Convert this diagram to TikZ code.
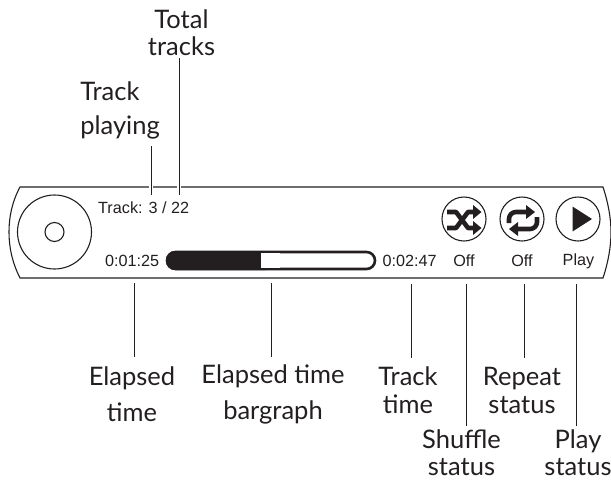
\documentclass[tikz,border=0pt]{standalone}
\usepackage{fontspec}
\setmainfont{Lato}
\newfontfamily\panelfont{Liberation Sans}
\definecolor{ink}{HTML}{231F20}
\tikzset{
  x=1pt,y=-1pt,
  outline/.style={draw=ink,line width=1.1pt},
  leader/.style={draw=ink,line width=1pt},
  halo/.style={draw=white,line width=3.4pt},
  lab/.style={font=\fontsize{25.5}{28}\selectfont,text=ink,align=center,inner sep=0pt},
  ptext/.style={font=\panelfont\fontsize{16.2}{18}\selectfont,text=ink,inner sep=0pt},
  pipe/.style={draw=ink,line width=4.6pt,line join=round}
}
\begin{document}
\begin{tikzpicture}
\useasboundingbox (0,0) rectangle (611,480);
\draw[outline] (20,187) -- (603,187) .. controls (608,202) and (611,218) .. (611,232) .. controls (611,247) and (608,263) .. (603,278) -- (20,278) .. controls (12,262) and (9,247) .. (9,232) .. controls (9,217) and (12,202) .. (20,187) -- cycle;
\node[circle,outline,minimum size=74pt,inner sep=0pt] (disc) at (54.5,232) {};
\node[circle,outline,minimum size=19pt,inner sep=0pt] (hole) at (54.5,232) {};
% bar
\draw[draw=ink,line width=2.6pt,fill=white,rounded corners=8.5pt] (167,252) rectangle (375,269);
\fill[ink,rounded corners=9pt] (166,251) rectangle (275,270);
\fill[white] (261,253.3) rectangle (280,267.7);
% icons
\node[circle,outline,minimum size=44pt,inner sep=0pt] (shuf) at (464,219) {};
\node[circle,outline,minimum size=44pt,inner sep=0pt] (rep) at (522,219) {};
\node[circle,outline,minimum size=44pt,inner sep=0pt] (play) at (578,219) {};
\fill[ink] (572.5,206.5) -- (592,219) -- (572.5,231.5) -- cycle;
% shuffle
\draw[pipe] (447,212) -- (456,212) -- (468,228) -- (475,228);
\draw[pipe] (447,228) -- (456,228) -- (468,212) -- (475,212);
\fill[ink] (473,205) -- (481.5,212) -- (473,219) -- cycle;
\fill[ink] (473,221) -- (481.5,228) -- (473,235) -- cycle;
% repeat
\draw[pipe,rounded corners=7pt] (528,212) -- (509,212) -- (509,223);
\draw[pipe,rounded corners=7pt] (516,229) -- (537,229) -- (537,217);
\fill[ink] (526,205) -- (535,212) -- (526,219) -- cycle;
\fill[ink] (518,222) -- (509,229) -- (518,236) -- cycle;
% panel text
\node[ptext,anchor=west] (track) at (98,208) {Track: 3 / 22};
\node[ptext,anchor=west] (el) at (105,261) {0:01:25};
\node[ptext,anchor=west] (tt) at (382.5,261) {0:02:47};
\node[ptext] (off1) at (464,261) {Off};
\node[ptext] (off2) at (522,261) {Off};
\node[ptext] (pl) at (578.5,261) {Play};
% labels
\node[lab] (ltotal) at (181.5,32.5) {Total\\[-1pt]tracks};
\node[lab,align=left] (lplaying) at (120,110) {Track\\[6pt]playing};
\node[lab] (lel) at (132,394) {Elapsed\\[8pt]time};
\node[lab] (lbar) at (273,394) {Elapsed time\\[8pt]bargraph};
\node[lab] (ltt) at (408,390) {Track\\time};
\node[lab] (lrep) at (522,390) {Repeat\\status};
\node[lab] (lshuf) at (461.5,453) {Shuffle\\[-1pt]status};
\node[lab] (lplay) at (578,453) {Play\\[-1pt]status};
% leaders
\coordinate (a1) at (151,146); \coordinate (a2) at (151,195);
\coordinate (b1) at (179,58); \coordinate (b2) at (179,195);
\coordinate (a3) at (151,184); \coordinate (a4) at (151,190);
\coordinate (b3) at (179,184); \coordinate (b4) at (179,190);
\draw[halo] (a3) -- (a4);
\draw[halo] (b3) -- (b4);
\draw[leader] (a1) -- (a2);
\draw[leader] (b1) -- (b2);
\coordinate (c1) at (134,283); \coordinate (c2) at (134,357);
\coordinate (d1) at (271.5,283); \coordinate (d2) at (271.5,357);
\coordinate (e1) at (411.7,284); \coordinate (e2) at (411.7,358);
\coordinate (f1) at (466.3,284); \coordinate (f2) at (466.3,426);
\coordinate (g1) at (524.3,284); \coordinate (g2) at (524.3,358);
\coordinate (h1) at (576.3,284); \coordinate (h2) at (576.3,426);
\draw[leader] (c1) -- (c2);
\draw[leader] (d1) -- (d2);
\draw[leader] (e1) -- (e2);
\draw[leader] (f1) -- (f2);
\draw[leader] (g1) -- (g2);
\draw[leader] (h1) -- (h2);
\end{tikzpicture}
\end{document}
